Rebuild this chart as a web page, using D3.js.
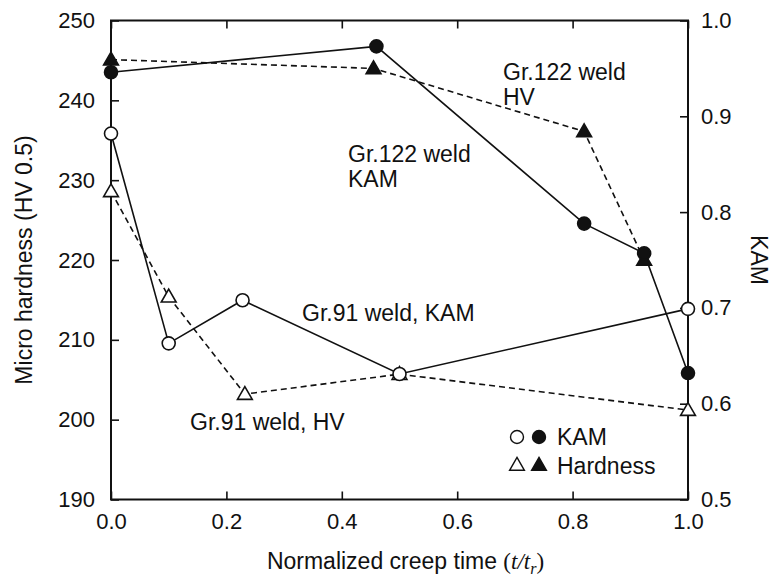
<!DOCTYPE html>
<html>
<head>
<meta charset="utf-8">
<script src="https://cdn.jsdelivr.net/npm/d3@7"></script>
<style>
body{margin:0;background:#fff;}
svg{display:block;font-family:"Liberation Sans",Arial,sans-serif;}
</style>
</head>
<body>
<div id="chart"></div>
<script>
// Gr.122 weld
var t122_kam=[0,0.46,0.82,0.924,1.0],
	kam122=[0.946,0.973,0.788,0.757,0.632];
var t122_hv=[0,0.455,0.82,0.924],
	hv122=[245.1,244.0,236.1,220.0];
// Gr.91 weld
var t91_kam=[0,0.1,0.228,0.5,1.0],
	kam91=[0.882,0.663,0.708,0.631,0.699];
var t91_hv=[0,0.1,0.232,0.5,1.0],
	hv91=[228.6,215.4,203.2,205.7,201.2];

var x_ticks=[0,0.2,0.4,0.6,0.8,1.0],
	hv_ticks=[190,200,210,220,230,240,250],
	kam_ticks=[0.5,0.6,0.7,0.8,0.9,1.0];

var W=771, H=579,
	plot_l=111, plot_r=688, plot_t=20.5, plot_b=499.5,
	tick_len=8,
	txt_size="23px";

var svg=d3.select("#chart").append("svg")
	.attr("width",W)
	.attr("height",H);

var x=d3.scaleLinear().domain([0,1]).range([plot_l,plot_r]);
var yHV=d3.scaleLinear().domain([190,250]).range([plot_b,plot_t]);
var yKAM=d3.scaleLinear().domain([0.5,1.0]).range([plot_b,plot_t]);

function style_axis(g){
	g.select(".domain").remove();
	g.selectAll(".tick line").attr("stroke","#111").attr("stroke-width",1.6);
	g.selectAll(".tick text").attr("font-size","22px").attr("fill","#111")
		.attr("font-family","'Liberation Sans',Arial,sans-serif");
}

svg.append("g").attr("transform","translate(0,"+plot_b+")")
	.call(d3.axisBottom(x).tickValues(x_ticks).tickFormat(d3.format(".1f")).tickSize(-tick_len).tickPadding(14))
	.call(style_axis);
svg.append("g").attr("transform","translate(0,"+plot_t+")")
	.call(d3.axisTop(x).tickValues(x_ticks).tickFormat("").tickSize(-tick_len))
	.call(style_axis);
svg.append("g").attr("transform","translate("+plot_l+",0)")
	.call(d3.axisLeft(yHV).tickValues(hv_ticks).tickFormat(d3.format("d")).tickSize(-tick_len).tickPadding(16))
	.call(style_axis);
svg.append("g").attr("transform","translate("+plot_r+",0)")
	.call(d3.axisRight(yKAM).tickValues(kam_ticks).tickFormat(d3.format(".1f")).tickSize(-tick_len).tickPadding(13))
	.call(style_axis);

svg.append("rect")
	.attr("x",plot_l).attr("y",plot_t)
	.attr("width",plot_r-plot_l).attr("height",plot_b-plot_t)
	.attr("fill","none").attr("stroke","#111").attr("stroke-width",2);

// axis titles
svg.append("text")
	.attr("transform","translate(32,"+((plot_t+plot_b)/2)+") rotate(-90)")
	.attr("text-anchor","middle")
	.attr("font-size",txt_size).attr("fill","#111")
	.text("Micro hardness (HV 0.5)");

svg.append("text")
	.attr("transform","translate(751,"+((plot_t+plot_b)/2)+") rotate(90)")
	.attr("text-anchor","middle")
	.attr("font-size",txt_size).attr("fill","#111")
	.text("KAM");

var serif="'Liberation Serif','Times New Roman',serif";
var xt=svg.append("text")
	.attr("x",(plot_l+plot_r)/2+6).attr("y",569)
	.attr("text-anchor","middle")
	.attr("font-size",txt_size).attr("fill","#111");
xt.append("tspan").text("Normalized creep time ");
xt.append("tspan").attr("font-family",serif).text("(");
xt.append("tspan").attr("font-family",serif).attr("font-style","italic").text("t/t");
xt.append("tspan").attr("font-family",serif).attr("font-style","italic")
	.attr("font-size","16px").attr("dy",5).text("r");
xt.append("tspan").attr("font-family",serif).attr("dy",-5).text(")");

// lines
function draw_series(ts,vs,yscale,dashed){
	var pts=ts.map(function(t,i){return [x(t),yscale(vs[i])];});
	svg.append("path")
		.attr("d",d3.line()(pts))
		.attr("fill","none")
		.attr("stroke","#111")
		.attr("stroke-width",1.6)
		.attr("stroke-dasharray",dashed?"6,4":null);
	return pts;
}

var p122k=draw_series(t122_kam,kam122,yKAM,false);
var p122h=draw_series(t122_hv,hv122,yHV,true);
var p91k=draw_series(t91_kam,kam91,yKAM,false);
var p91h=draw_series(t91_hv,hv91,yHV,true);

var tri=d3.symbol().type(d3.symbolTriangle).size(95);

function draw_markers(pts,kind,filled){
	pts.forEach(function(p){
		if(kind=="circle"){
			svg.append("circle")
				.attr("cx",p[0]).attr("cy",p[1]).attr("r",6.5)
				.attr("fill",filled?"#111":"#fff")
				.attr("stroke","#111").attr("stroke-width",1.6);
		}else{
			svg.append("path")
				.attr("d",tri())
				.attr("transform","translate("+p[0]+","+(p[1]+1)+")")
				.attr("fill",filled?"#111":"#fff")
				.attr("stroke","#111").attr("stroke-width",1.6);
		}
	});
}

draw_markers(p91h,"tri",false);
draw_markers(p91k,"circle",false);
draw_markers(p122h,"tri",true);
draw_markers(p122k,"circle",true);

// annotations
function label(tx,ty,lines){
	var t=svg.append("text").attr("font-size",txt_size).attr("fill","#111");
	lines.forEach(function(s,i){
		t.append("tspan").attr("x",tx).attr("y",ty+i*25).text(s);
	});
}
label(503,80,["Gr.122 weld","HV"]);
label(348,162,["Gr.122 weld","KAM"]);
label(302,321,["Gr.91 weld, KAM"]);
label(190,430,["Gr.91 weld, HV"]);

// legend
var lg=svg.append("g");
lg.append("circle").attr("cx",517).attr("cy",437).attr("r",6.5)
	.attr("fill","#fff").attr("stroke","#111").attr("stroke-width",1.4);
lg.append("circle").attr("cx",539).attr("cy",437).attr("r",6.5)
	.attr("fill","#111").attr("stroke","#111").attr("stroke-width",1.4);
lg.append("text").attr("x",557).attr("y",445).attr("font-size",txt_size).attr("fill","#111").text("KAM");
lg.append("path").attr("d",tri()).attr("transform","translate(517,466)")
	.attr("fill","#fff").attr("stroke","#111").attr("stroke-width",1.4);
lg.append("path").attr("d",tri()).attr("transform","translate(539,466)")
	.attr("fill","#111").attr("stroke","#111").attr("stroke-width",1.4);
lg.append("text").attr("x",557).attr("y",474).attr("font-size",txt_size).attr("fill","#111").text("Hardness");
</script>
</body>
</html>
